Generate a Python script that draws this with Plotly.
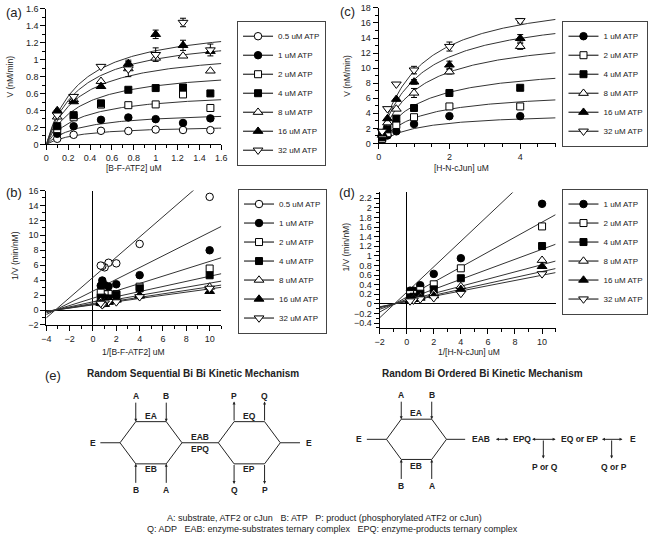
import numpy as np
import plotly.graph_objects as go

W, H = 656, 541
FONT = "Liberation Sans, Arial, sans-serif"


def fx(p):
    return p / W


def fy(p):
    return 1 - p / H


# ---------------- data: panel (a)/(b) ----------------
atp_labels_a = ["0.5 uM ATP", "1 uM ATP", "2 uM ATP", "4 uM ATP", "8 uM ATP", "16 uM ATP", "32 uM ATP"]
atf2_conc = [0.1, 0.25, 0.5, 0.75, 1.0, 1.25, 1.5]
v_atf2_atp05 = [0.066, 0.113, 0.160, 0.158, 0.175, 0.170, 0.168]
v_atf2_atp1 = [0.125, 0.214, 0.290, 0.318, 0.298, 0.253, 0.307]
v_atf2_atp2 = [0.180, 0.320, 0.470, 0.463, 0.472, 0.590, 0.430]
v_atf2_atp4 = [0.215, 0.345, 0.485, 0.645, 0.665, 0.672, 0.602]
v_atf2_atp8 = [0.325, 0.530, 0.745, 0.895, 1.020, 1.045, 0.868]
v_atf2_atp16 = [0.400, 0.505, 0.685, 0.955, 1.300, 1.170, 1.100]
v_atf2_atp32 = [0.345, 0.565, 0.920, 0.890, 1.060, 1.440, 1.115]
err_atf2_atp16 = [None, None, None, 0.04, 0.05, 0.06, None]
err_atf2_atp32 = [None, None, None, 0.09, 0.08, 0.05, 0.07]
vmax_atf2 = [0.229, 0.394, 0.630, 0.907, 1.140, 1.320, 1.450]
km_atf2 = [0.31, 0.31, 0.31, 0.31, 0.31, 0.31, 0.31]

# ---------------- data: panel (c)/(d) ----------------
atp_labels_c = ["1 uM ATP", "2 uM ATP", "4 uM ATP", "8 uM ATP", "16 uM ATP", "32 uM ATP"]
cjun_conc = [0.1, 0.25, 0.5, 1.0, 2.0, 4.0]
v_cjun_atp1 = [0.48, 1.05, 1.60, 2.57, 3.62, 3.62]
v_cjun_atp2 = [0.62, 1.35, 2.45, 3.48, 4.91, 4.91]
v_cjun_atp4 = [0.83, 1.87, 3.30, 4.70, 6.70, 7.39]
v_cjun_atp8 = [1.10, 2.75, 4.57, 6.70, 9.52, 12.90]
v_cjun_atp16 = [1.28, 3.30, 5.87, 8.17, 10.43, 13.96]
v_cjun_atp32 = [1.60, 4.60, 7.87, 9.74, 12.87, 16.30]
err_cjun_atp8 = [None, None, None, 0.6, 0.3, 0.4]
err_cjun_atp16 = [None, None, None, 0.3, 0.5, 0.5]
err_cjun_atp32 = [None, None, None, 0.5, 0.6, 0.3]
vmax_cjun = [4.14, 7.05, 10.55, 14.69, 17.81, 20.10]
km_cjun = [1.1, 1.1, 1.1, 1.1, 1.1, 1.1]

v_atf2 = [v_atf2_atp05, v_atf2_atp1, v_atf2_atp2, v_atf2_atp4, v_atf2_atp8, v_atf2_atp16, v_atf2_atp32]
err_atf2 = [None, None, None, None, None, err_atf2_atp16, err_atf2_atp32]
v_cjun = [v_cjun_atp1, v_cjun_atp2, v_cjun_atp4, v_cjun_atp8, v_cjun_atp16, v_cjun_atp32]
err_cjun = [None, None, None, err_cjun_atp8, err_cjun_atp16, err_cjun_atp32]

# marker styles (symbol, filled)
styles_a = [("circle", False), ("circle", True), ("square", False), ("square", True),
            ("triangle-up", False), ("triangle-up", True), ("triangle-down", False)]
styles_c = styles_a[1:]

fig = go.Figure()


def marker(sym, filled):
    size = {"circle": 7.5, "square": 7, "triangle-up": 8.5, "triangle-down": 8.5}[sym]
    return dict(symbol=sym, size=size, color="black" if filled else "white",
                line=dict(color="black", width=1))


def add_panel(xs, ys_list, errs, vmax, km, styles, labels, xa, ya, legend, fit_x, recip=False):
    for vm, k in zip(vmax, km):
        if recip:
            lx = np.array(fit_x, dtype=float)
            ly = (k * lx + 1.0) / vm
        else:
            lx = np.linspace(fit_x[0], fit_x[1], 120)
            ly = vm * lx / (k + lx)
        fig.add_trace(go.Scatter(x=lx, y=ly, mode="lines", line=dict(color="#333", width=1),
                                 xaxis=xa, yaxis=ya, showlegend=False, hoverinfo="skip"))
    for ys, er, (sym, filled) in zip(ys_list, errs, styles):
        xs_arr = np.array(xs, dtype=float)
        ys_arr = np.array(ys, dtype=float)
        if recip:
            px, py = 1.0 / xs_arr, 1.0 / ys_arr
            ey = None
        else:
            px, py = xs_arr, ys_arr
            ey = None if er is None else dict(type="data", array=er, color="black", thickness=1, width=3)
        fig.add_trace(go.Scatter(x=px, y=py, mode="markers", marker=marker(sym, filled),
                                 error_y=ey, xaxis=xa, yaxis=ya, showlegend=False, cliponaxis=False))
    for (sym, filled), lab in zip(styles, labels):
        fig.add_trace(go.Scatter(x=[None], y=[None], mode="lines+markers", name=lab,
                                 marker=marker(sym, filled), line=dict(color="black", width=1),
                                 xaxis=xa, yaxis=ya, legend=legend, showlegend=True))


add_panel(atf2_conc, v_atf2, err_atf2, vmax_atf2, km_atf2, styles_a, atp_labels_a, "x", "y", "legend", [0, 1.6])
add_panel(atf2_conc, v_atf2, err_atf2, vmax_atf2, km_atf2, styles_a, atp_labels_a, "x2", "y2", "legend2", [-4, 11], recip=True)
add_panel(cjun_conc, v_cjun, err_cjun, vmax_cjun, km_cjun, styles_c, atp_labels_c, "x3", "y3", "legend3", [0, 5])
add_panel(cjun_conc, v_cjun, err_cjun, vmax_cjun, km_cjun, styles_c, atp_labels_c, "x4", "y4", "legend4", [-2, 11], recip=True)

tickfont = dict(size=9, family=FONT, color="#222")


def ax(domain, rng, dtick, minor, anchor, zero=False):
    return dict(domain=domain, range=rng, dtick=dtick, tick0=0, anchor=anchor,
                showline=True, linecolor="black", linewidth=1, ticks="outside", ticklen=5,
                tickwidth=1, tickcolor="black", showgrid=False, zeroline=zero,
                zerolinecolor="black", zerolinewidth=1, tickfont=tickfont, tickformat="~g",
                minor=dict(ticks="outside", ticklen=3, dtick=minor, tick0=0, tickcolor="black", showgrid=False),
                fixedrange=True)


fig.update_layout(
    xaxis=ax([fx(42), fx(220)], [0, 1.6], 0.2, 0.1, "y"),
    yaxis=ax([fy(142), fy(4)], [0, 1.6], 0.2, 0.1, "x"),
    xaxis2=ax([fx(42), fx(220)], [-4, 11], 2, 1, "y2", zero=True),
    yaxis2=ax([fy(326), fy(189)], [-2, 16], 2, 1, "x2", zero=True),
    xaxis3=ax([fx(380), fx(560)], [0, 5], 2, 0.5, "y3"),
    yaxis3=ax([fy(141), fy(3)], [0, 18], 2, 1, "x3"),
    xaxis4=ax([fx(381), fx(560)], [-2, 11], 2, 1, "y4", zero=True),
    yaxis4=ax([fy(329), fy(191)], [-0.5, 2.32], 0.2, 0.1, "x4", zero=True),
)


def leg(x, y):
    return dict(x=fx(x), y=fy(y), xanchor="left", yanchor="top", bordercolor="#444", borderwidth=1,
                bgcolor="white", font=dict(size=8, family=FONT, color="#222"), itemwidth=30,
                tracegroupgap=0)


fig.update_layout(legend=leg(236, 16), legend2=leg(237, 187), legend3=leg(567, 16), legend4=leg(567, 187))

ann = []


def text(x, y, s, size=8.5, bold=False, angle=0, color="#222"):
    if bold:
        s = "<b>" + s + "</b>"
    ann.append(dict(x=fx(x), y=fy(y), xref="paper", yref="paper", text=s, showarrow=False,
                    font=dict(size=size, family=FONT, color=color), textangle=angle,
                    xanchor="center", yanchor="middle"))


# panel labels and axis titles
text(9, 8, "(a)", 13)
text(9, 191, "(b)", 13)
text(348, 7, "(c)", 13)
text(348, 191, "(d)", 13)
text(131, 166, "[B-F-ATF2] uM")
text(5, 73, "V (nM/min)", angle=-90)
text(131, 354, "1/[B-F-ATF2] uM")
text(10, 255, "1/V (min/nM)", angle=-90)
text(464, 166, "[H-N-cJun] uM")
text(347, 72, "V (nM/min)", angle=-90)
text(472, 354, "1/[H-N-cJun] uM")
text(347, 247, "1/V (min/nM)", angle=-90)

# ---------------- panel (e) diagrams ----------------
text(49, 377, "(e)", 13)
text(191, 375, "Random Sequential Bi Bi Kinetic Mechanism", 10, bold=True)
text(486, 375, "Random Bi Ordered Bi Kinetic Mechanism", 10, bold=True)

shapes = []


def line(x0, y0, x1, y1):
    shapes.append(dict(type="line", xref="paper", yref="paper", x0=fx(x0), y0=fy(y0), x1=fx(x1), y1=fy(y1),
                       line=dict(color="#222", width=1)))


def arrow(x0, y0, x1, y1, both=False):
    ann.append(dict(x=fx(x1), y=fy(y1), xref="paper", yref="paper", ax=x0 - x1, ay=y0 - y1,
                    axref="pixel", ayref="pixel", text="", showarrow=True, arrowhead=2,
                    arrowsize=0.6, arrowwidth=1, arrowcolor="#222",
                    arrowside="end+start" if both else "end", startarrowhead=2, startarrowsize=0.6))


def hexagon(cx, cy, w, t, h):
    pts = [(cx - w, cy), (cx - t, cy - h), (cx + t, cy - h), (cx + w, cy), (cx + t, cy + h), (cx - t, cy + h)]
    path = "M " + " L ".join(f"{fx(a):.5f},{fy(b):.5f}" for a, b in pts) + " Z"
    shapes.append(dict(type="path", xref="paper", yref="paper", path=path, line=dict(color="#222", width=1)))
    return pts


LB = 8.5  # label font size
# left mechanism
h1 = hexagon(148.5, 446, 31.5, 15.5, 21.5)
h2 = hexagon(248.5, 446, 31.5, 15.5, 21.5)
text(89, 446, "E", LB, True)
line(97, 446, h1[0][0], 446)
line(h1[3][0], 446, h2[0][0], 446)
line(h2[3][0], 446, 300, 446)
text(309, 446, "E", LB, True)
text(198, 440, "EAB", LB, True)
text(198, 452, "EPQ", LB, True)
text(148.5, 419, "EA", LB, True)
text(148.5, 473, "EB", LB, True)
text(248.5, 419, "EQ", LB, True)
text(248.5, 473, "EP", LB, True)
for (xv, lab_top, lab_bot) in [(h1[1][0], "A", "B"), (h1[2][0], "B", "A")]:
    text(xv, 398, lab_top, LB, True)
    arrow(xv, 404, xv, 424.5)
    text(xv, 494, lab_bot, LB, True)
    arrow(xv, 488, xv, 467.5)
for (xv, lab_top, lab_bot) in [(h2[1][0], "P", "Q"), (h2[2][0], "Q", "P")]:
    text(xv, 398, lab_top, LB, True)
    arrow(xv, 424.5, xv, 404)
    text(xv, 494, lab_bot, LB, True)
    arrow(xv, 467.5, xv, 488)

# right mechanism
h3 = hexagon(418.5, 442.5, 30.5, 15.5, 20.5)
text(360, 442.5, "E", LB, True)
line(368, 442.5, h3[0][0], 442.5)
line(h3[3][0], 442.5, 468, 442.5)
text(418.5, 416, "EA", LB, True)
text(418.5, 470, "EB", LB, True)
for (xv, lab_top, lab_bot) in [(h3[1][0], "A", "B"), (h3[2][0], "B", "A")]:
    text(xv, 397, lab_top, LB, True)
    arrow(xv, 403, xv, 422)
    text(xv, 490, lab_bot, LB, True)
    arrow(xv, 484, xv, 463)
text(484, 442.5, "EAB", LB, True)
arrow(498, 442.5, 512, 442.5, both=True)
text(526, 442.5, "EPQ", LB, True)
arrow(535, 442.5, 560, 442.5, both=True)
arrow(547.5, 442.5, 547.5, 462)
text(549, 471, "P or Q", LB, True)
text(584, 442.5, "EQ or EP", LB, True)
arrow(606, 442.5, 628, 442.5, both=True)
arrow(617, 442.5, 617, 462)
text(619, 471, "Q or P", LB, True)
text(639, 442.5, "E", LB, True)

sp = "\u00a0\u00a0\u00a0"
text(325, 523, "A: substrate, ATF2 or cJun" + sp + "B: ATP" + sp + "P: product (phosphorylated ATF2 or cJun)", 9)
text(333, 534, "Q: ADP" + sp + "EAB: enzyme-substrates ternary complex" + sp + "EPQ: enzyme-products ternary complex", 9)

fig.update_layout(annotations=ann, shapes=shapes, width=W, height=H,
                  margin=dict(l=0, r=0, t=0, b=0), paper_bgcolor="white", plot_bgcolor="white",
                  font=dict(family=FONT, size=10, color="#222"), showlegend=True)

fig.write_html("out.html", config={"displayModeBar": False})
with open("out.html", "r", encoding="utf-8") as f:
    html = f.read()
html = html.replace("<head>", "<head><style>html,body{margin:0;padding:0;overflow:hidden;}</style>", 1)
with open("out.html", "w", encoding="utf-8") as f:
    f.write(html)
